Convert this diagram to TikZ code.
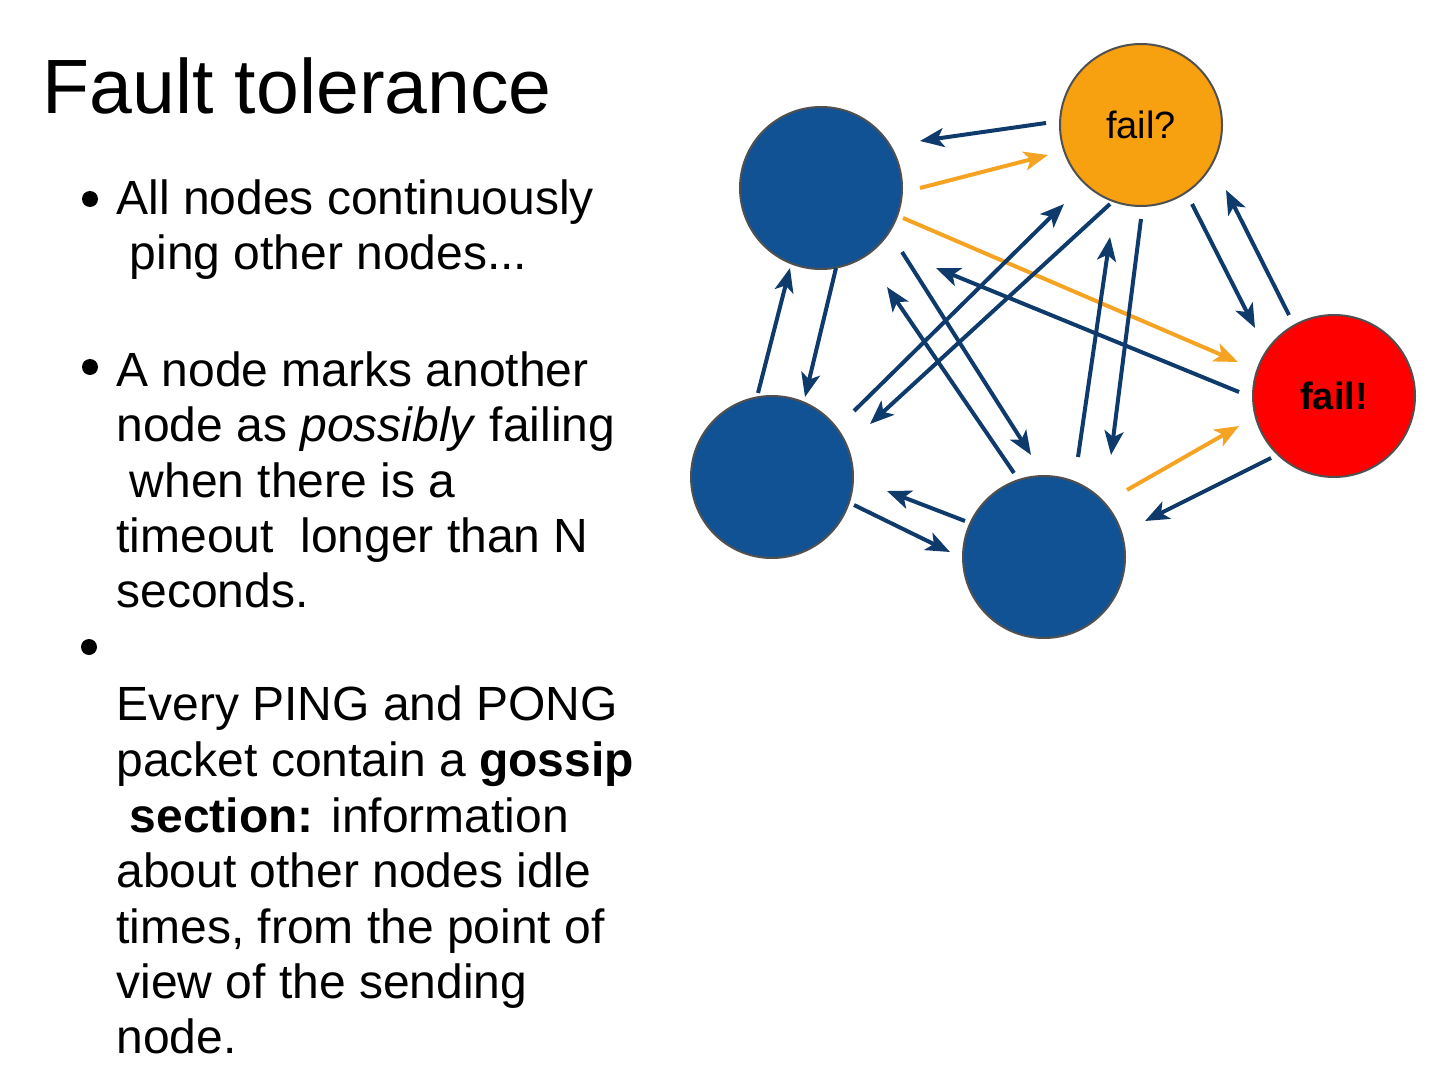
\documentclass[tikz,border=0pt]{standalone}
\usepackage{fontspec}
\setmainfont{Liberation Sans}
\usetikzlibrary{arrows.meta,calc}

\definecolor{peerblue}{RGB}{17,82,148}
\definecolor{suspect}{RGB}{247,160,16}
\definecolor{failred}{RGB}{255,0,0}
\definecolor{rim}{RGB}{80,80,80}
\definecolor{navy}{RGB}{14,58,108}
\definecolor{amber}{RGB}{245,163,35}

\begin{document}
\begin{tikzpicture}[x=0.5pt,y=-0.5pt,
    peer/.style={circle,draw=rim,line width=1pt,minimum size=81pt,inner sep=0pt,fill=peerblue,
                 font=\fontsize{19}{21}\selectfont},
    ping/.style={line width=2pt,draw=navy,-{Stealth[length=12pt,width=9.5pt,inset=3pt]}},
    warn/.style={ping,draw=amber},
    txt/.style={anchor=base west,inner sep=0pt,font=\fontsize{24}{28}\selectfont},
    dot/.style={circle,fill=black,inner sep=0pt,minimum size=8pt}]
\useasboundingbox (0,0) rectangle (1440,1081);

% title and bullets
\node[anchor=base west,inner sep=0pt,font=\fontsize{38.5}{44}\selectfont] (title) at (42,113) {Fault tolerance};

\node[dot] (b1) at (90,199) {};
\node[txt] (t1) at (116,214) {All nodes continuously};
\node[txt] (t2) at (116,269) {\ ping other nodes...};

\node[dot] (b2) at (90,367) {};
\node[txt] (t3) at (116,386) {A node marks another};
\node[txt] (t4) at (116,441) {node as \textit{possibly} failing};
\node[txt] (t5) at (116,497) {\ when there is a};
\node[txt] (t6) at (116,552) {timeout\ \ longer than N};
\node[txt] (t7) at (116,607) {seconds.};

\node[dot] (b3) at (89,647) {};
\node[txt] (t8) at (116,720) {Every PING and PONG};
\node[txt] (t9) at (116,776) {packet contain a \textbf{gossip}};
\node[txt] (t10) at (116,832) {\ \textbf{section:} information};
\node[txt] (t11) at (116,887) {about other nodes idle};
\node[txt] (t12) at (116,943) {times, from the point of};
\node[txt] (t13) at (116,998) {view of the sending};
\node[txt] (t14) at (116,1053) {node.};

% the cluster
\node[peer] (tl) at (821,188) {};
\node[peer,fill=suspect] (fq) at (1141,125) {fail?};
\node[peer,fill=failred] (fx) at (1334,396) {\textbf{fail!}};
\node[peer] (bl) at (772,477) {};
\node[peer] (bt) at (1044,557) {};

\draw[ping] ($(fq)+(-95,-2)$) -- ($(tl)+(99,-47)$);
\draw[warn] ($(tl)+(99,0)$) -- ($(fq)+(-93,30)$);
\draw[warn] ($(tl)+(82,30)$) -- ($(fx)+(-96,-34)$);
\draw[ping] ($(fx)+(-95,-4)$) -- ($(tl)+(115,80)$);
\draw[ping] ($(fq)+(51,79)$) -- ($(fx)+(-79,-68)$);
\draw[ping] ($(fx)+(-45,-81)$) -- ($(fq)+(85,65)$);
\draw[ping] ($(bl)+(-14,-84)$) -- ($(tl)+(-31,80)$);
\draw[ping] ($(tl)+(15,80)$) -- ($(bl)+(33,-80)$);
\draw[ping] ($(bl)+(82,-66)$) -- ($(fq)+(-77,79)$);
\draw[ping] ($(fq)+(-31,79)$) -- ($(bl)+(98,-53)$);
\draw[ping] ($(tl)+(81,64)$) -- ($(bt)+(-13,-102)$);
\draw[ping] ($(bt)+(-30,-84)$) -- ($(tl)+(66,99)$);
\draw[ping] ($(bt)+(34,-100)$) -- ($(fq)+(-31,112)$);
\draw[ping] ($(fq)+(0,94)$) -- ($(bt)+(67,-102)$);
\draw[warn] ($(bt)+(83,-67)$) -- ($(fx)+(-95,30)$);
\draw[ping] ($(fx)+(-63,62)$) -- ($(bt)+(101,-36)$);
\draw[ping] ($(bt)+(-79,-36)$) -- ($(bl)+(115,14)$);
\draw[ping] ($(bl)+(82,28)$) -- ($(bt)+(-94,-5)$);
\end{tikzpicture}
\end{document}
